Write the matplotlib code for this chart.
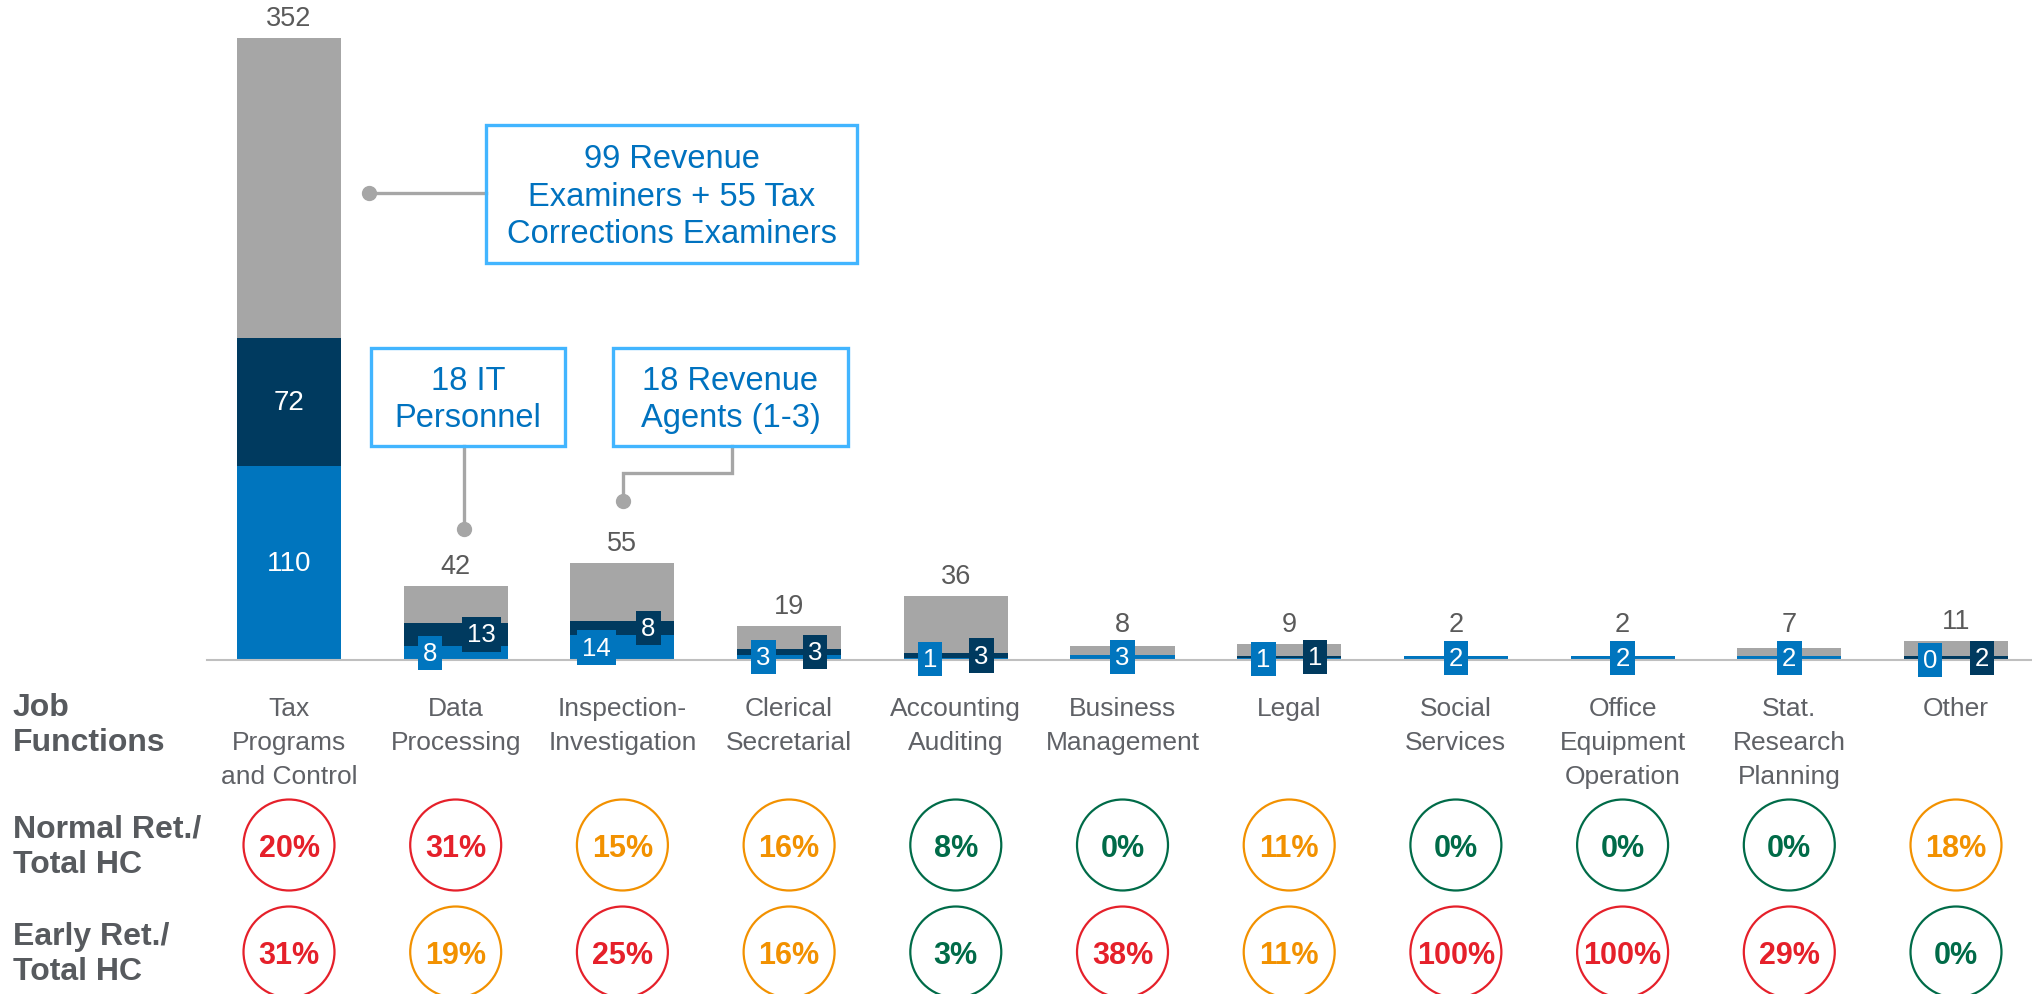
import numpy as np
import matplotlib
matplotlib.use('Agg')
import matplotlib.pyplot as plt
from matplotlib import transforms
from matplotlib.patches import Rectangle

plt.rcParams['font.family'] = ['Liberation Sans', 'DejaVu Sans']

W, H = 2032, 995

# job functions and head counts
categories = ['Tax\nPrograms\nand Control', 'Data\nProcessing', 'Inspection-\nInvestigation',
              'Clerical\nSecretarial', 'Accounting\nAuditing', 'Business\nManagement', 'Legal',
              'Social\nServices', 'Office\nEquipment\nOperation', 'Stat.\nResearch\nPlanning', 'Other']
total_hc = [352, 42, 55, 19, 36, 8, 9, 2, 2, 7, 11]
early_ret = [110, 8, 14, 3, 1, 3, 1, 2, 2, 2, 0]
normal_ret = [72, 13, 8, 3, 3, 0, 1, 0, 0, 0, 2]
normal_pct = [20, 31, 15, 16, 8, 0, 11, 0, 0, 0, 18]
early_pct = [31, 19, 25, 16, 3, 38, 11, 100, 100, 29, 0]
row_labels = ['Job\nFunctions', 'Normal Ret./\nTotal HC', 'Early Ret./\nTotal HC']
callout_texts = ['99 Revenue\nExaminers + 55 Tax\nCorrections Examiners',
                 '18 IT\nPersonnel',
                 '18 Revenue\nAgents (1-3)']

GREY = '#A6A6A6'
BLUE = '#0075BE'
NAVY = '#003A5F'
TXT = '#5F6166'
CALLOUT = '#0072BF'
EDGE = '#42B5FF'
RED, ORANGE, GREEN = '#E5202A', '#F29100', '#006B48'


def pct_color(v):
    if v >= 20:
        return RED
    if v >= 10:
        return ORANGE
    return GREEN


fig = plt.figure(figsize=(W / 100, H / 100), dpi=100)

# pixel canvas for the table rows and call-outs
ov = fig.add_axes([0, 0, 1, 1])
ov.set_xlim(0, W)
ov.set_ylim(H, 0)
ov.axis('off')

# bar area
base_px, step, x0 = 661, 166.7, 289
ax = fig.add_axes([207 / W, (H - base_px) / H, (W - 207) / W, base_px / H])
ax.patch.set_visible(False)
ax.set_xlim((207 - x0) / step, (W - x0) / step)
ax.set_ylim(0, base_px / 1.767)
for s in ['top', 'right', 'left']:
    ax.spines[s].set_visible(False)
ax.spines['bottom'].set_color('#BFBFBF')
ax.spines['bottom'].set_linewidth(1.5)
ax.set_xticks([])
ax.set_yticks([])

x = np.arange(len(categories))
total = np.array(total_hc)
early = np.array(early_ret)
normal = np.array(normal_ret)
bw = 0.624
ax.bar(x, early, bw, color=BLUE)
ax.bar(x, normal, bw, bottom=early, color=NAVY)
ax.bar(x, total - early - normal, bw, bottom=early + normal, color=GREY)


def seg_label(xc, yc, val, fc, tall):
    ax.text(xc, yc, str(val), ha='center', va='center', color='white',
            fontsize=20 if tall else 18.5,
            bbox=dict(boxstyle='square,pad=0.2', fc=fc, ec='none'))


for i in x:
    split = normal[i] > 0 and total[i] < 100
    dx = 0.155 if split else 0
    seg_label(i - dx, early[i] / 2, early[i], BLUE, early[i] > 50)
    if normal[i] > 0:
        seg_label(i + dx, early[i] + normal[i] / 2, normal[i], NAVY, normal[i] > 50)
    # keep the total clear of the small label boxes
    ax.annotate(str(total[i]), (i, max(total[i], 9)), xytext=(0, 20), textcoords='offset pixels',
                ha='center', va='center', fontsize=19.5, color='#5A5A5A')

# table rows under the bars
tf = transforms.blended_transform_factory(ax.transData, ov.transData)
for i, c in enumerate(categories):
    ov.text(i, 697, c, transform=tf, ha='center', va='top', fontsize=19, color=TXT,
            linespacing=1.52)

for lab, y in zip(row_labels, [693, 815, 922]):
    ov.text(13, y, lab, ha='left', va='top', fontsize=23, fontweight='bold', color='#575A5E',
            linespacing=1.2)

for vals, yc in [(normal_pct, 846), (early_pct, 953)]:
    cols = [pct_color(v) for v in vals]
    ov.scatter(x, [yc] * len(x), s=4290, facecolor='white', edgecolor=cols, linewidth=1.6,
               transform=tf, zorder=3)
    for i, v in enumerate(vals):
        ov.text(i, yc + 3, f'{v}%', transform=tf, ha='center', va='center', fontsize=22,
                fontweight='bold', color=cols[i], zorder=4)

# call-outs: box (left, top, right, bottom) and connector path in pixels
boxes = [(486, 126, 857, 264), (371, 349, 565, 447), (613, 349, 848, 447)]
paths = [([369, 486], [194, 194]),
         ([464, 464], [530, 447]),
         ([623, 623, 732, 732], [502, 474, 474, 447])]
for txt, (l, t, r, b), (px, py) in zip(callout_texts, boxes, paths):
    ov.plot(px, py, color=GREY, lw=2.4, solid_joinstyle='miter', zorder=2)
    ov.plot(px[0], py[0], 'o', ms=10, color=GREY, zorder=2)
    ov.add_patch(Rectangle((l, t), r - l, b - t, fill=False, ec=EDGE, lw=2.4, zorder=3))
    ov.text((l + r) / 2, (t + b) / 2 + 2, txt, ha='center', va='center', fontsize=23.5,
            color=CALLOUT, linespacing=1.27, zorder=4)

fig.savefig('out.png', dpi=100)
